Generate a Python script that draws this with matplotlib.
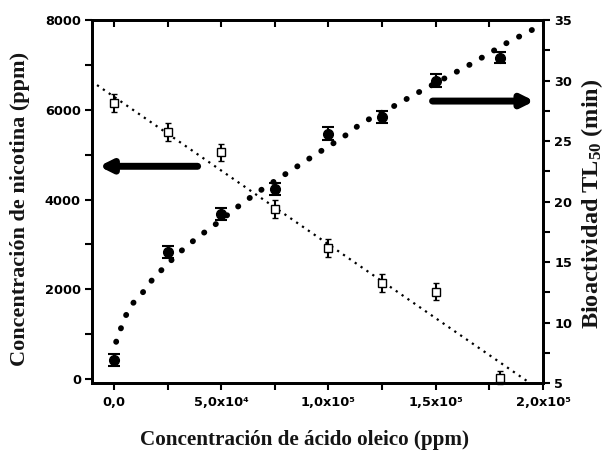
import matplotlib
matplotlib.use("Agg")
import matplotlib.pyplot as plt
from matplotlib.ticker import MultipleLocator, FixedLocator, FixedFormatter

plt.rcParams["mathtext.fontset"] = "custom"
plt.rcParams["mathtext.rm"] = "Liberation Serif:bold"
plt.rcParams["mathtext.bf"] = "Liberation Serif:bold"
plt.rcParams["mathtext.it"] = "Liberation Serif:bold:italic"

# ---- data ----
oleic_x = [0, 25000, 50000, 75000, 100000, 125000, 150000, 180000]
nicotine = [6150, 5500, 5050, 3790, 2920, 2140, 1940, 30]
nicotine_err = [200, 200, 190, 200, 200, 200, 190, 150]
tl50 = [6.9, 15.8, 19.0, 21.0, 25.6, 27.0, 30.0, 31.9]
tl50_err = [0.5, 0.5, 0.5, 0.5, 0.55, 0.5, 0.5, 0.45]

# fitted trend lines
nic_fit_x = [-7900, 193000]
nic_fit_y = [6550, -60]
tl_fit_x = [1000, 5100, 8900, 13500, 17700, 21400, 29900, 38700, 48000, 60100,
            69000, 81100, 94100, 106700, 115600, 127700, 140700, 153300,
            166800, 183100, 196200]
tl_fit_y = [8.4, 10.45, 11.6, 12.5, 13.5, 14.2, 15.7, 17.0, 18.2, 19.9,
            21.0, 22.4, 23.9, 25.3, 26.5, 27.6, 28.9, 30.1,
            31.4, 33.1, 34.3]

x_ticks = [0, 50000, 100000, 150000, 200000]
x_labels = ["0,0", "5,0x10\u2074", "1,0x10\u2075", "1,5x10\u2075", "2,0x10\u2075"]
left_ticks = [0, 2000, 4000, 6000, 8000]
right_ticks = [5, 10, 15, 20, 25, 30, 35]

fig = plt.figure(figsize=(6.07, 4.5), dpi=100)
ax = fig.add_axes([92/607, 1-383/450, (543-92)/607, (383-20)/450])
ax2 = ax.twinx()

tickfont = dict(family="DejaVu Sans", weight="bold", size=9.3)
serif = "Liberation Serif"

# nicotine (left axis)
ax.plot(nic_fit_x, nic_fit_y, color="black", lw=1.6,
        linestyle=(0, (1, 2.2)), zorder=2)
ax.errorbar(oleic_x, nicotine, yerr=nicotine_err, fmt="s", ms=5.5,
            mfc="white", mec="black", mew=1.0, ecolor="black",
            elinewidth=1.5, capsize=2, capthick=1.2, zorder=3, clip_on=False)

# bioactivity (right axis)
line, = ax2.plot(tl_fit_x, tl_fit_y, color="black", lw=4.2,
                 linestyle=(0, (0.05, 2.4)), zorder=2)
line.set_dash_capstyle("round")
ax2.errorbar(oleic_x, tl50, yerr=tl50_err, fmt="o", ms=7,
             mfc="black", mec="black", ecolor="black",
             elinewidth=1.5, capsize=4, capthick=1.5, zorder=3)

ax.set_xlim(-10250, 200000)
ax.set_ylim(-89, 8000)
ax2.set_ylim(5, 35)

ax.xaxis.set_major_locator(FixedLocator(x_ticks))
ax.xaxis.set_major_formatter(FixedFormatter(x_labels))
ax.xaxis.set_minor_locator(MultipleLocator(25000))
ax.yaxis.set_major_locator(FixedLocator(left_ticks))
ax.yaxis.set_minor_locator(MultipleLocator(1000))
ax2.yaxis.set_major_locator(FixedLocator(right_ticks))
ax2.yaxis.set_minor_locator(MultipleLocator(2.5))

ax.tick_params(axis="x", which="both", direction="out", top=True,
               length=5, width=1.5, pad=4)
ax.tick_params(axis="y", which="both", direction="out", length=5, width=1.5,
               pad=3)
ax2.tick_params(axis="y", which="both", direction="out", length=5, width=1.5,
                pad=3)
# top ticks point inward
for t in ax.xaxis.get_major_ticks() + ax.xaxis.get_minor_ticks():
    t.tick2line.set_marker(3)
for a in (ax, ax2):
    for s in a.spines.values():
        s.set_linewidth(2)

for lab in ax.get_xticklabels() + ax.get_yticklabels() + ax2.get_yticklabels():
    lab.set_fontfamily(tickfont["family"])
    lab.set_fontweight(tickfont["weight"])
    lab.set_fontsize(tickfont["size"])

fig.text(304/607, 1-440/450, "Concentración de ácido oleico (ppm)",
         ha="center", va="center", family=serif, weight="bold", size=15.2,
         color="#151515")
fig.text(20/607, 1-209/450, "Concentración de nicotina (ppm)", rotation=90,
         ha="center", va="center", family=serif, weight="bold", size=16,
         color="#151515")
fig.text(592/607, 1-204/450, r"Bioactividad TL$_{\mathrm{50}}$ (min)",
         rotation=90, ha="center", va="center", family=serif, weight="bold",
         size=17.5, color="#151515")

# arrows pointing to the relevant axes
ax.annotate("", xy=(-7000, 4740), xytext=(39000, 4740),
            arrowprops=dict(arrowstyle="-|>,head_length=0.7,head_width=0.35",
                            lw=5, color="black", shrinkA=0, shrinkB=0))
ax2.annotate("", xy=(196000, 28.3), xytext=(148500, 28.3),
             arrowprops=dict(arrowstyle="-|>,head_length=0.7,head_width=0.35",
                             lw=5, color="black", shrinkA=0, shrinkB=0))

fig.savefig("out.png", dpi=100)
